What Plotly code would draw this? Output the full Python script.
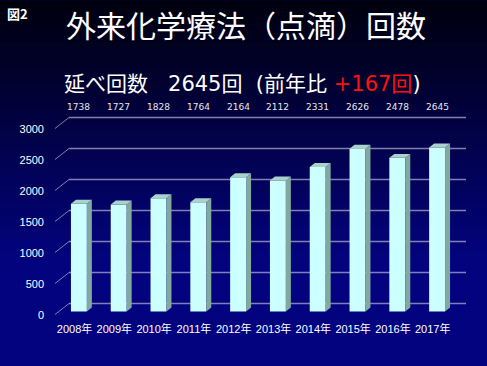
import plotly.graph_objects as go

# ---- data ----
years = ["2008年", "2009年", "2010年", "2011年", "2012年",
         "2013年", "2014年", "2015年", "2016年", "2017年"]
counts = [1738, 1727, 1828, 1764, 2164, 2112, 2331, 2626, 2478, 2645]
y_ticks = [0, 500, 1000, 1500, 2000, 2500, 3000]
title_text = "外来化学療法（点滴）回数"
fig_label = "図2"

# ---- layout geometry ----
W, H = 487, 366
S = 202 / 3250          # pixels per count
Z = 312                 # pixel row of the front zero level
LAB_PX = 3.5            # tick labels sit slightly below the front level
L, R, T = 59, 30, 110
B = H - Z - LAB_PX
PW, PH = W - L - R, H - T - B
YTOP = (Z - T) / S
YBOT = -LAB_PX / S
XMIN, XMAX = -0.5, 9.5
px_per_x = PW / (XMAX - XMIN)


def pxx(p):  # pixel x -> paper
    return (p - L) / PW


def pxy(p):  # pixel y (from top) -> paper
    return (H - B - p) / PH


bar_w = 0.40
dx = 5 / px_per_x      # depth offset in data units
dy = 4 / S

xs = list(range(len(years)))

fig = go.Figure()

# background gradient
n_strips = 61
top_c, bot_c = (0, 0, 12), (3, 3, 128)
grad_end = 265
for k in range(n_strips):
    y0p = k * H / n_strips
    y1p = (k + 1) * H / n_strips + 0.6
    t = min(1.0, ((y0p + y1p) / 2) / grad_end)
    c = tuple(int(round(a + (b - a) * t)) for a, b in zip(top_c, bot_c))
    fig.add_shape(type="rect", xref="paper", yref="paper",
                  x0=pxx(-5), x1=pxx(W + 5), y0=pxy(y1p), y1=pxy(y0p),
                  line_width=0, fillcolor="rgb(%d,%d,%d)" % c, layer="below")

# back-wall gridlines with diagonal connectors
grid_col = "rgba(150,150,190,0.85)"
for v in y_ticks:
    fig.add_shape(type="line", xref="paper", yref="y", ysizemode="pixel",
                  yanchor=v, y0=8, y1=8, x0=pxx(69), x1=pxx(466),
                  line=dict(color=grid_col, width=1.5), layer="below")
    fig.add_shape(type="line", xref="paper", yref="y", ysizemode="pixel",
                  yanchor=v, y0=-3, y1=8, x0=pxx(55), x1=pxx(69),
                  line=dict(color=grid_col, width=1), layer="below")

# front faces
fig.add_trace(go.Bar(x=xs, y=counts, width=bar_w,
                     marker=dict(color="#CCFFFF", line=dict(width=0)),
                     hoverinfo="skip"))

# side faces
sx, sy = [], []
for i, v in zip(xs, counts):
    r = i + bar_w / 2
    sx += [r, r + dx, r + dx, r, r, None]
    sy += [0, dy, v + dy, v, 0, None]
fig.add_trace(go.Scatter(x=sx, y=sy, mode="lines", fill="toself",
                         fillcolor="#82A8A2", line=dict(width=0),
                         hoverinfo="skip"))

# top faces
tx, ty = [], []
for i, v in zip(xs, counts):
    l_, r = i - bar_w / 2, i + bar_w / 2
    tx += [l_, r, r + dx, l_ + dx, l_, None]
    ty += [v, v, v + dy, v + dy, v, None]
fig.add_trace(go.Scatter(x=tx, y=ty, mode="lines", fill="toself",
                         fillcolor="#A8D2CA", line=dict(width=0),
                         hoverinfo="skip"))

# invisible trace that carries the y tick label axis
fig.add_trace(go.Scatter(x=[xs[0]], y=[0], yaxis="y2", mode="markers",
                         marker=dict(opacity=0), hoverinfo="skip"))

annotations = []
# value labels along the top
for i, v in zip(xs, counts):
    annotations.append(dict(x=i, y=pxy(107), xref="x", yref="paper",
                            xanchor="center", yanchor="middle",
                            text=str(v), showarrow=False,
                            font=dict(family="DejaVu Sans", size=9,
                                      color="#E8E8E8")))
# title
annotations.append(dict(x=pxx(246), y=pxy(24), xref="paper", yref="paper",
                        xanchor="center", yanchor="middle",
                        text=title_text, showarrow=False,
                        font=dict(family="Noto Sans CJK JP", size=30,
                                  color="white")))
# subtitle
annotations.append(dict(
    x=pxx(62), y=pxy(84), xref="paper", yref="paper", xanchor="left",
    yanchor="middle",
    text=("延べ回数&nbsp;&nbsp;&nbsp;2645回&nbsp;&nbsp;(前年比&nbsp;"
          "<span style='color:#FF1010'>+167回</span>)"),
    showarrow=False,
    font=dict(family="DejaVu Sans, Noto Sans CJK JP", size=21,
              color="white")))
# figure label
annotations.append(dict(x=pxx(5), y=pxy(13), xref="paper", yref="paper",
                        xanchor="left", yanchor="middle",
                        text="<b>" + fig_label + "</b>",
                        showarrow=False,
                        font=dict(family="Noto Sans CJK JP", size=13,
                                  color="white")))

fig.update_layout(
    width=W, height=H,
    margin=dict(l=L, r=R, t=T, b=B, pad=0),
    paper_bgcolor="#000080",
    plot_bgcolor="rgba(0,0,0,0)",
    showlegend=False,
    annotations=annotations,
    xaxis=dict(range=[XMIN, XMAX], tickmode="array",
               tickvals=[i - 0.11 for i in xs], ticktext=years,
               showgrid=False, zeroline=False, showline=False, ticks="",
               ticklabelstandoff=6,
               tickfont=dict(family="Liberation Sans, Noto Sans CJK JP",
                             size=11, color="white"),
               fixedrange=True),
    yaxis=dict(range=[YBOT, YTOP], showticklabels=False,
               showgrid=False, zeroline=False, showline=False, ticks="",
               fixedrange=True),
    yaxis2=dict(range=[0, YTOP - YBOT], overlaying="y",
                side="left", tickmode="array", tickvals=y_ticks,
                ticktext=[str(v) for v in y_ticks],
                showgrid=False, zeroline=False, showline=False, ticks="",
                ticklabelstandoff=14,
                tickfont=dict(family="Liberation Sans", size=11,
                              color="white"),
                fixedrange=True),
)

fig.write_html("out.html", config={"displayModeBar": False},
               post_script="document.body.style.margin='0';"
                           "document.body.style.padding='0';")
